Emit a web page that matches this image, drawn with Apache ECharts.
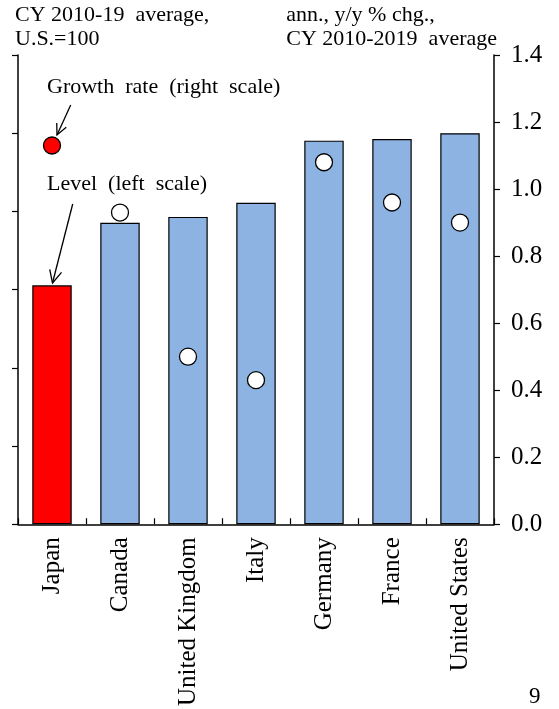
<!DOCTYPE html>
<html>
<head>
<meta charset="utf-8">
<script src="https://cdn.jsdelivr.net/npm/echarts@6/dist/echarts.min.js"></script>
<style>html,body{margin:0;padding:0;background:#fff;}#c{width:559px;height:709px;}</style>
</head>
<body>
<div id="c"></div>
<script>
const categories = ["Japan", "Canada", "United Kingdom", "Italy", "Germany", "France", "United States"];
const levelValues = [61.1, 77.1, 78.6, 82.2, 98.1, 98.5, 100];
const growthValues = [1.13, 0.93, 0.50, 0.43, 1.08, 0.96, 0.90];
const leftTicks = { min: 0, max: 120, interval: 20 };
const rightTicks = { min: 0, max: 1.4, interval: 0.2 };

const FONT = "Liberation Serif";
const RED = "#ff0000";
const BLUE = "#8db3e2";

const chart = echarts.init(document.getElementById('c'), null, { renderer: 'canvas' });

function arrow(x1, y1, x2, y2, head) {
  const a = Math.atan2(y2 - y1, x2 - x1);
  const s = 0.45;
  const p1 = [x2 - head * Math.cos(a - s), y2 - head * Math.sin(a - s)];
  const p2 = [x2 - head * Math.cos(a + s), y2 - head * Math.sin(a + s)];
  return [
    { type: 'line', shape: { x1, y1, x2, y2 }, style: { stroke: '#000', lineWidth: 1.3 } },
    { type: 'polyline', shape: { points: [p1, [x2, y2], p2] }, style: { stroke: '#000', lineWidth: 1.3, fill: null } }
  ];
}

const option = {
  animation: false,
  backgroundColor: '#fff',
  textStyle: { fontFamily: FONT, color: '#000' },
  grid: { left: 18, right: 65, top: 55, bottom: 182 },
  xAxis: {
    type: 'category',
    data: categories,
    axisLine: { lineStyle: { color: '#000', width: 1.5 } },
    axisTick: { show: true, inside: true, length: 6, lineStyle: { color: '#000', width: 1.2 } },
    axisLabel: { rotate: 90, fontFamily: FONT, fontSize: 25, color: '#000', margin: 13, interval: 0 }
  },
  yAxis: [
    {
      type: 'value', position: 'left', min: leftTicks.min, max: leftTicks.max, interval: leftTicks.interval,
      axisLine: { show: true, lineStyle: { color: '#000', width: 1.5 } },
      axisTick: { show: true, inside: false, length: 6, lineStyle: { color: '#000', width: 1.2 } },
      axisLabel: { show: false },
      splitLine: { show: false }
    },
    {
      type: 'value', position: 'right', min: rightTicks.min, max: rightTicks.max, interval: rightTicks.interval,
      axisLine: { show: true, lineStyle: { color: '#000', width: 1.5 } },
      axisTick: { show: true, inside: false, length: 6, lineStyle: { color: '#000', width: 1.2 } },
      axisLabel: { fontFamily: FONT, fontSize: 25, color: '#000', margin: 17, formatter: v => v.toFixed(1) },
      splitLine: { show: false }
    }
  ],
  series: [
    {
      type: 'bar', yAxisIndex: 0, barWidth: '58%',
      data: levelValues.map((v, i) => ({ value: v, itemStyle: { color: i === 0 ? RED : BLUE } })),
      itemStyle: { borderColor: '#000', borderWidth: 1.2 }
    },
    {
      type: 'scatter', yAxisIndex: 1, symbol: 'circle', symbolSize: 17, z: 5,
      data: growthValues.map((v, i) => ({ value: v, itemStyle: { color: i === 0 ? RED : '#fff' } })),
      itemStyle: { borderColor: '#000', borderWidth: 1.3, opacity: 1 }
    }
  ],
  graphic: [
    { type: 'text', left: 15, top: 3, style: { text: 'CY 2010-19  average,\nU.S.=100', font: '22px "Liberation Serif"', fill: '#000', lineHeight: 24 } },
    { type: 'text', right: 62, top: 3, style: { text: 'ann., y/y % chg.,\nCY 2010-2019  average', font: '22px "Liberation Serif"', fill: '#000', lineHeight: 24, align: 'right' } },
    { type: 'text', left: 47, top: 76, style: { text: 'Growth  rate  (right  scale)', font: '22px "Liberation Serif"', fill: '#000' } },
    { type: 'text', left: 47, top: 173, style: { text: 'Level  (left  scale)', font: '22px "Liberation Serif"', fill: '#000' } },
    { type: 'text', left: 529, top: 685, style: { text: '9', font: '23px "Liberation Serif"', fill: '#000' } },
    ...arrow(70.7, 105, 57, 135, 12),
    ...arrow(72.7, 204, 52.5, 283, 14)
  ]
};
chart.setOption(option);
</script>
</body>
</html>
